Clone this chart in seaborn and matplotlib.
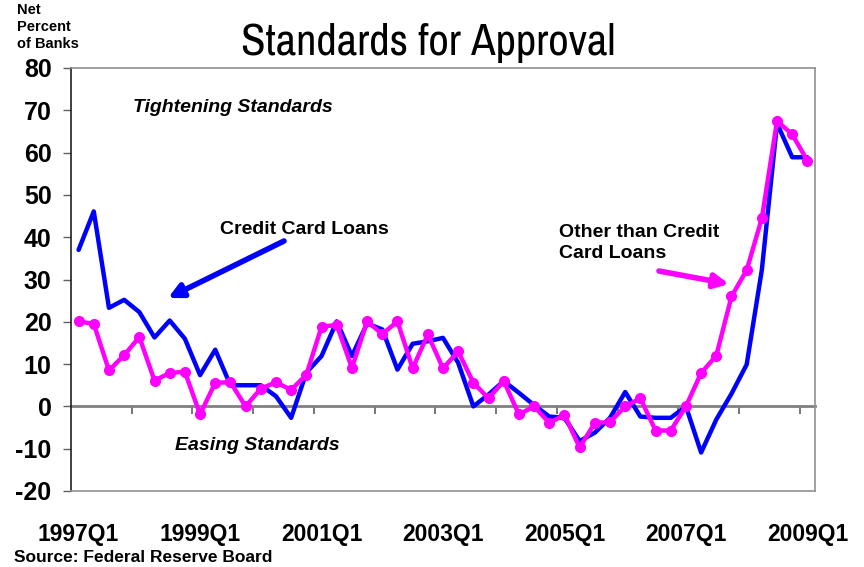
import numpy as np
import pandas as pd
import matplotlib
matplotlib.use("Agg")
import matplotlib.pyplot as plt
from matplotlib import font_manager
import seaborn as sns

quarters = [f"{y}Q{q}" for y in range(1997, 2010) for q in range(1, 5)][:49]

credit_card = [37, 46.1, 23.3, 25.2, 22.3, 16.3, 20.3, 16, 7.4, 13.4, 5, 5, 5, 2.4, -2.7, 8,
               11.9, 20.1, 11.9, 19.6, 18.2, 8.7, 14.8, 15.4, 16.2, 10.3, 0, 2.8, 6.0, 3.2,
               0.3, -2.4, -2.7, -8.2, -6.2, -2.7, 3.4, -2.4, -2.7, -2.7, 0,
               -10.9, -3.1, 3, 9.9, 32.3, 66.9, 58.9, 58.9]

other_loans = [20.1, 19.5, 8.5, 12.1, 16.4, 6.1, 7.9, 8.2, -1.9, 5.6, 5.7, 0, 4.2, 5.7, 3.9, 7.5,
               18.8, 19.3, 9.1, 20.1, 17.1, 20.1, 9.0, 17.0, 9.0, 13.0, 5.6, 1.9, 6.0, -1.9,
               0, -3.9, -2.0, -9.7, -3.9, -3.7, 0, 1.9, -5.7, -5.7, 0,
               7.9, 12.0, 26.0, 32.2, 44.5, 67.5, 64.3, 58.1]

y_ticks = list(range(-20, 90, 10))

sns.set_theme(style="white")
plt.rcParams['font.family'] = ['Liberation Sans', 'DejaVu Sans']
for k in ["text.color", "xtick.color", "ytick.color", "axes.labelcolor"]:
    plt.rcParams[k] = "black"

W, H = 864, 567
fig = plt.figure(figsize=(W / 100, H / 100), dpi=100)
ax = fig.add_axes([71 / W, 1 - 491 / H, (815 - 71) / W, (491 - 68) / H])

df = pd.DataFrame({"idx": np.arange(len(quarters)), "quarter": quarters,
                   "cc": credit_card, "other": other_loans})

sns.lineplot(data=df, x="idx", y="cc", color="#0000FF", lw=3.2, ax=ax)
sns.lineplot(data=df, x="idx", y="other", color="#FF00FF", lw=3.2, marker="o",
             markersize=8, markeredgewidth=0, ax=ax)

ax.set_xlim(-0.5, len(quarters) - 0.5)
ax.set_ylim(-20, 80)
ax.set_xlabel("")
ax.set_ylabel("")
ax.grid(False)

ax.set_yticks(y_ticks)
ax.set_yticklabels([str(v) for v in y_ticks], fontsize=18, fontweight="bold")
ax.tick_params(axis="y", direction="out", length=6, width=1, color="#606060", pad=8, left=True)

ax.set_xticks(np.arange(0, len(quarters), 8))
ax.set_xticklabels(quarters[::8], fontsize=16.5, fontweight="bold")
ax.tick_params(axis="x", length=0, pad=23, bottom=False)

for s in ["top", "right", "bottom"]:
    ax.spines[s].set_color("#909090")
    ax.spines[s].set_linewidth(1.2)
ax.spines["left"].set_color("#202020")
ax.spines["left"].set_linewidth(1.2)

sec = ax.secondary_xaxis(0.2)
sec.set_xticks(np.arange(3.5, len(quarters) - 1, 4))
sec.set_xticklabels([])
sec.tick_params(direction="out", length=6, width=1.2, color="#606060")
for s in sec.spines.values():
    s.set_color("#808080")
    s.set_linewidth(2)

def fx(px):
    return px / W

def fy(py):
    return 1 - py / H

# title in a narrow face if one is installed
names = sorted({f.name for f in font_manager.fontManager.ttflist})
narrow = [n for n in names if "Narrow" in n] + [n for n in names if "Condensed" in n]
title_kw = dict(ha="center", va="baseline")
if narrow:
    title_kw["family"] = [narrow[0], "DejaVu Sans"]
else:
    title_kw["family"] = ["DejaVu Sans"]
    title_kw["fontstretch"] = "condensed"
title = fig.text(fx(428), fy(55), "Standards for Approval", fontsize=32, **title_kw)
fig.canvas.draw()
r = fig.canvas.get_renderer()
w = title.get_window_extent(r).width
title.set_fontsize(32 * 375 / w)

fig.text(fx(17), fy(3), "Net\nPercent\nof Banks", fontsize=10.5, fontweight="bold",
         ha="left", va="top", linespacing=1.25)
fig.text(fx(14), fy(557), "Source: Federal Reserve Board", fontsize=12.5,
         fontweight="bold", ha="left", va="center")

fig.text(fx(133), fy(107), "Tightening Standards", fontsize=14, fontweight="bold",
         fontstyle="italic", ha="left", va="center")
fig.text(fx(175), fy(446), "Easing Standards", fontsize=14, fontweight="bold",
         fontstyle="italic", ha="left", va="center")
fig.text(fx(220), fy(230), "Credit Card Loans", fontsize=14, fontweight="bold",
         ha="left", va="center")
fig.text(fx(559), fy(243), "Other than Credit\nCard Loans", fontsize=14,
         fontweight="bold", ha="left", va="center", linespacing=1.25)

ax.annotate("", xy=(fx(168), fy(298)), xytext=(fx(284), fy(241)),
            xycoords="figure fraction", textcoords="figure fraction",
            arrowprops=dict(arrowstyle="-|>,head_length=0.7,head_width=0.35",
                            lw=4, color="#0000FF", shrinkA=0, shrinkB=0))
ax.annotate("", xy=(fx(729), fy(284)), xytext=(fx(659), fy(271)),
            xycoords="figure fraction", textcoords="figure fraction",
            arrowprops=dict(arrowstyle="-|>,head_length=0.7,head_width=0.35",
                            lw=4, color="#FF00FF", shrinkA=0, shrinkB=0))

fig.savefig("out.png", dpi=100)
